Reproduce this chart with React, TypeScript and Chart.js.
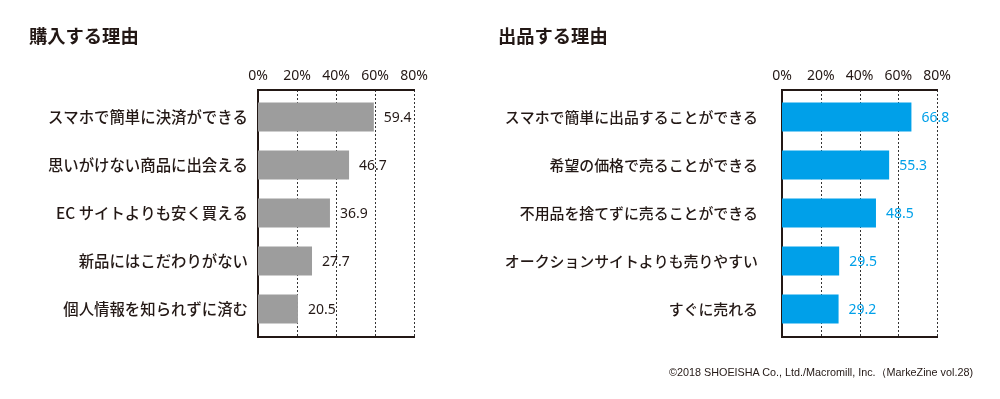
import React, { useEffect, useRef } from 'react';
import { Chart, registerables } from 'chart.js';

Chart.register(...registerables);

const buyTitle = '購入する理由';
const sellTitle = '出品する理由';
const buyCategories = [
  'スマホで簡単に決済ができる',
  '思いがけない商品に出会える',
  'EC サイトよりも安く買える',
  '新品にはこだわりがない',
  '個人情報を知られずに済む',
];
const buyValues = [59.4, 46.7, 36.9, 27.7, 20.5];
const sellCategories = [
  'スマホで簡単に出品することができる',
  '希望の価格で売ることができる',
  '不用品を捨てずに売ることができる',
  'オークションサイトよりも売りやすい',
  'すぐに売れる',
];
const sellValues = [66.8, 55.3, 48.5, 29.5, 29.2];
const tickValues = [0, 20, 40, 60, 80];
const copyright = '©2018 SHOEISHA Co., Ltd./Macromill, Inc.（MarkeZine vol.28)';

const JP = '"Noto Sans CJK JP", "Noto Sans", sans-serif';
const NUM = '"Noto Sans", "Noto Sans CJK JP", sans-serif';
const INK = '#231815';
const GRAY = '#9d9d9d';
const BLUE = '#00a0e9';

const boxPlugin = {
  id: 'boxPlugin',
  beforeDatasetsDraw(chart: any) {
    const { ctx, chartArea, scales } = chart;
    const x = scales.x;
    const top = chartArea.top - 3;
    const bottom = chartArea.bottom + 4;
    ctx.save();
    ctx.strokeStyle = '#333';
    ctx.lineWidth = 1;
    ctx.setLineDash([2, 2]);
    tickValues.forEach((v) => {
      if (v === 0) return;
      const px = Math.round(x.getPixelForValue(v)) + 0.5;
      ctx.beginPath();
      ctx.moveTo(px, top);
      ctx.lineTo(px, bottom);
      ctx.stroke();
    });
    ctx.setLineDash([]);
    ctx.strokeStyle = INK;
    ctx.lineWidth = 2;
    const left = x.getPixelForValue(0);
    const right = x.getPixelForValue(tickValues[tickValues.length - 1]);
    ctx.beginPath();
    ctx.moveTo(right + 1, top);
    ctx.lineTo(left, top);
    ctx.lineTo(left, bottom);
    ctx.lineTo(right + 1, bottom);
    ctx.stroke();
    ctx.restore();
  },
  afterDatasetsDraw(chart: any) {
    const { ctx } = chart;
    const meta = chart.getDatasetMeta(0);
    const ds = chart.data.datasets[0];
    ctx.save();
    ctx.font = '14px ' + NUM;
    ctx.fillStyle = ds.valueColor;
    ctx.textAlign = 'left';
    ctx.textBaseline = 'middle';
    meta.data.forEach((bar: any, i: number) => {
      ctx.fillText(ds.data[i].toFixed(1), bar.x + 10, bar.y + 1);
    });
    ctx.restore();
  },
};

function makeConfig(
  labels: string[],
  values: number[],
  color: string,
  valueColor: string,
  yWidth: number,
  padRight: number,
  labelPad: number,
  labelSize: number
): any {
  return {
    type: 'bar',
    data: {
      labels,
      datasets: [
        {
          data: values,
          backgroundColor: color,
          borderWidth: 0,
          barPercentage: 0.6,
          categoryPercentage: 1,
          valueColor,
        },
      ],
    },
    options: {
      indexAxis: 'y',
      responsive: false,
      animation: false,
      devicePixelRatio: 1,
      layout: { padding: { top: 0, right: padRight, bottom: 66, left: 0 } },
      plugins: { legend: { display: false }, tooltip: { enabled: false }, title: { display: false } },
      scales: {
        x: {
          position: 'top',
          min: 0,
          max: tickValues[tickValues.length - 1],
          afterFit: (s: any) => {
            s.height = 93;
          },
          afterBuildTicks: (s: any) => {
            s.ticks = tickValues.map((v) => ({ value: v }));
          },
          grid: { display: false, drawTicks: false },
          border: { display: false },
          ticks: {
            padding: 9,
            color: INK,
            font: { family: NUM, size: 14 },
            callback: (v: any) => v + '%',
          },
        },
        y: {
          afterFit: (s: any) => {
            s.width = yWidth;
          },
          grid: { display: false, drawTicks: false },
          border: { display: false },
          ticks: {
            padding: labelPad,
            color: INK,
            font: { family: JP, size: labelSize, weight: 500 },
          },
        },
      },
    },
    plugins: [boxPlugin],
  };
}

function BarPanel(props: { cfg: any; left: number }) {
  const ref = useRef<HTMLCanvasElement>(null);
  useEffect(() => {
    if (!ref.current) return;
    const chart = new Chart(ref.current, props.cfg);
    return () => chart.destroy();
  }, []);
  return (
    <canvas
      ref={ref}
      width={500}
      height={399}
      style={{ position: 'absolute', left: props.left, top: 0, width: 500, height: 399, display: 'block' }}
    />
  );
}

export default function App() {
  const buyCfg = makeConfig(buyCategories, buyValues, GRAY, INK, 258, 86, 10, 15.4);
  const sellCfg = makeConfig(sellCategories, sellValues, BLUE, BLUE, 282, 63, 24, 14.9);
  const titleStyle: React.CSSProperties = {
    position: 'absolute',
    top: 22,
    fontFamily: JP,
    fontWeight: 700,
    fontSize: 18.3,
    color: INK,
    lineHeight: '26px',
    whiteSpace: 'nowrap',
  };
  return (
    <div style={{ position: 'absolute', left: 0, top: 0, width: 1000, height: 399, background: '#fff', overflow: 'hidden' }}>
      <BarPanel cfg={buyCfg} left={0} />
      <BarPanel cfg={sellCfg} left={500} />
      <div style={{ ...titleStyle, left: 29 }}>{buyTitle}</div>
      <div style={{ ...titleStyle, left: 498 }}>{sellTitle}</div>
      <div
        style={{
          position: 'absolute',
          right: 27,
          top: 364,
          fontFamily: '"Liberation Sans", Arial, sans-serif',
          fontSize: 10.8,
          color: INK,
          lineHeight: '16px',
          whiteSpace: 'nowrap',
        }}
      >
        {copyright}
      </div>
    </div>
  );
}
